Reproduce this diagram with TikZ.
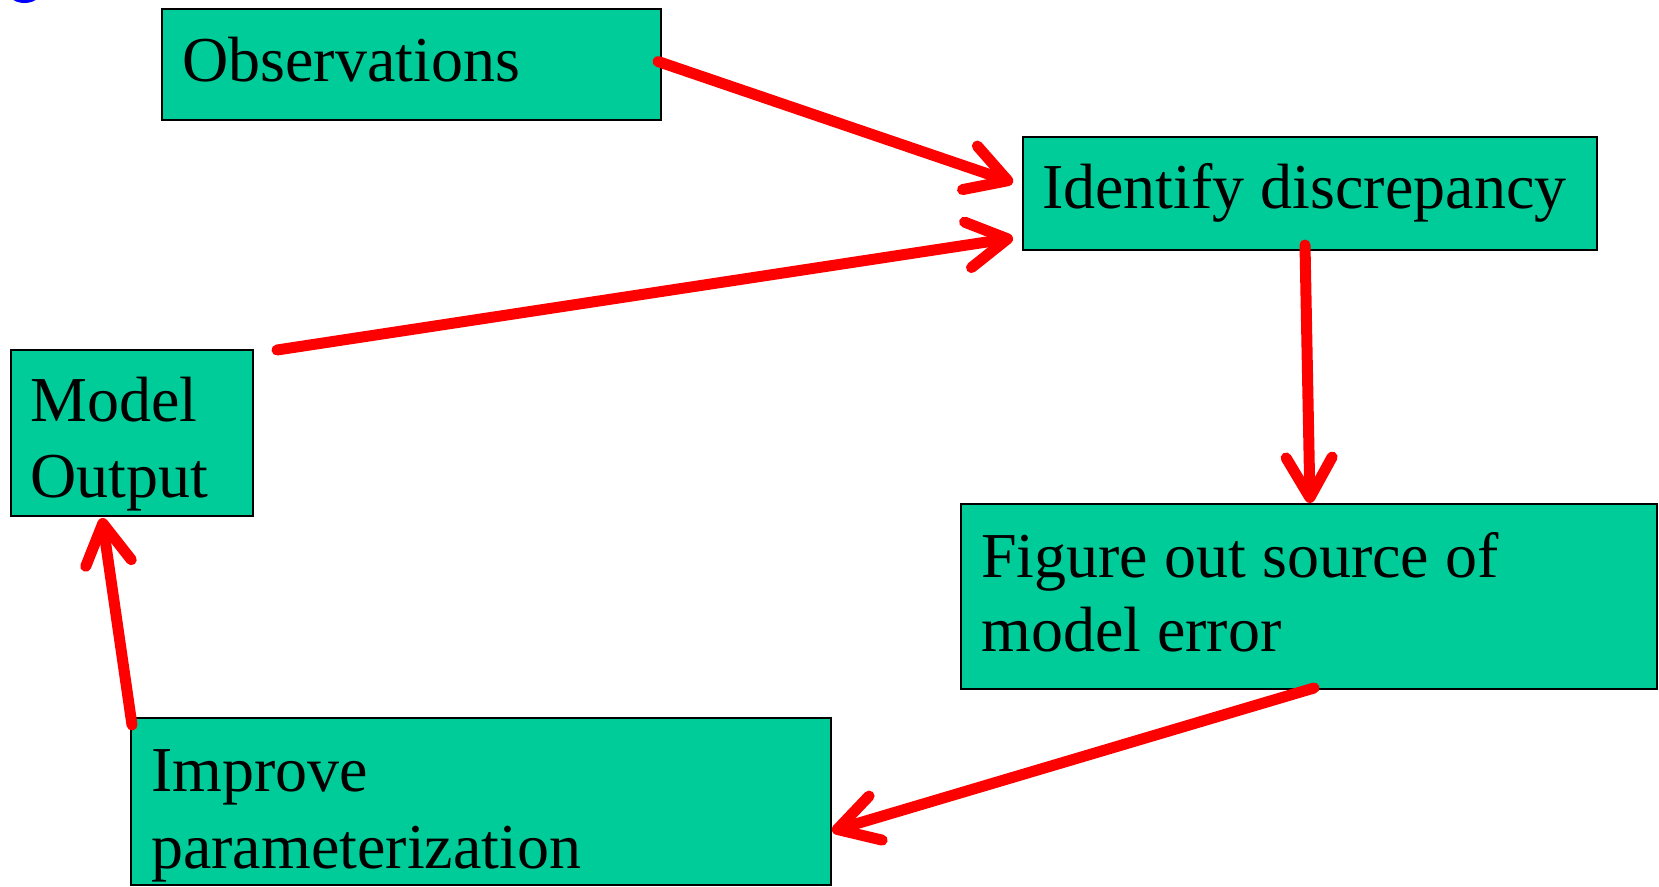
\documentclass[tikz,border=0pt]{standalone}
\usepackage{fontspec}
\setmainfont{Liberation Serif}
\usetikzlibrary{arrows.meta,calc}
\definecolor{boxgreen}{HTML}{00CC99}
\begin{document}
\begin{tikzpicture}[x=1pt,y=-1pt,
  box/.style={draw=black,line width=1.5pt,fill=boxgreen,inner sep=0pt,outer sep=0pt,anchor=north west},
  lbl/.style={anchor=base west,inner sep=0pt,font=\fontsize{64}{76}\selectfont},
  flow/.style={draw=red,line width=11pt,line cap=round,-{Straight Barb[length=40pt,width=46pt,round]}}]
\useasboundingbox (0,0) rectangle (1659,886);
\draw[blue,line width=3pt] (12,-3) .. controls (18,3) and (31,3) .. (37,-3);
% boxes
\node[box,minimum width=499pt,minimum height=111pt] (obs) at (162,9) {};
\node[box,minimum width=574pt,minimum height=113pt] (idf) at (1023,137) {};
\node[box,minimum width=242pt,minimum height=166pt] (mo) at (11,350) {};
\node[box,minimum width=696pt,minimum height=185pt] (fig) at (961,504) {};
\node[box,minimum width=700pt,minimum height=167pt] (imp) at (131,718) {};
% labels
\node[lbl] (tobs) at (182,81) {Observations};
\node[lbl] (tidf) at (1042,208) {Identify discrepancy};
\node[lbl] (tmo1) at (30,421) {Model};
\node[lbl] (tmo2) at (30,497) {Output};
\node[lbl] (tfig1) at (981,577) {Figure out source of};
\node[lbl] (tfig2) at (981,651) {model error};
\node[lbl] (timp1) at (151,791) {Improve};
\node[lbl] (timp2) at (151,868) {parameterization};
% connectors
\draw[flow] ($(obs.east)+(-3,-3)$) -- ($(idf.west)+(-10,-11)$);
\draw[flow] ($(mo.north east)+(24,0)$) -- ($(idf.south west)+(-10,-12)$);
\draw[flow] ($(idf.south)+(-5,-5)$) -- ($(fig.north)+(1,-1)$);
\draw[flow] ($(fig.south)+(5,-1)$) -- ($(imp.north east)+(1,113)$);
\draw[flow] ($(imp.north west)+(1,7)$) -- ($(mo.south)+(-30,2)$);
\end{tikzpicture}
\end{document}
